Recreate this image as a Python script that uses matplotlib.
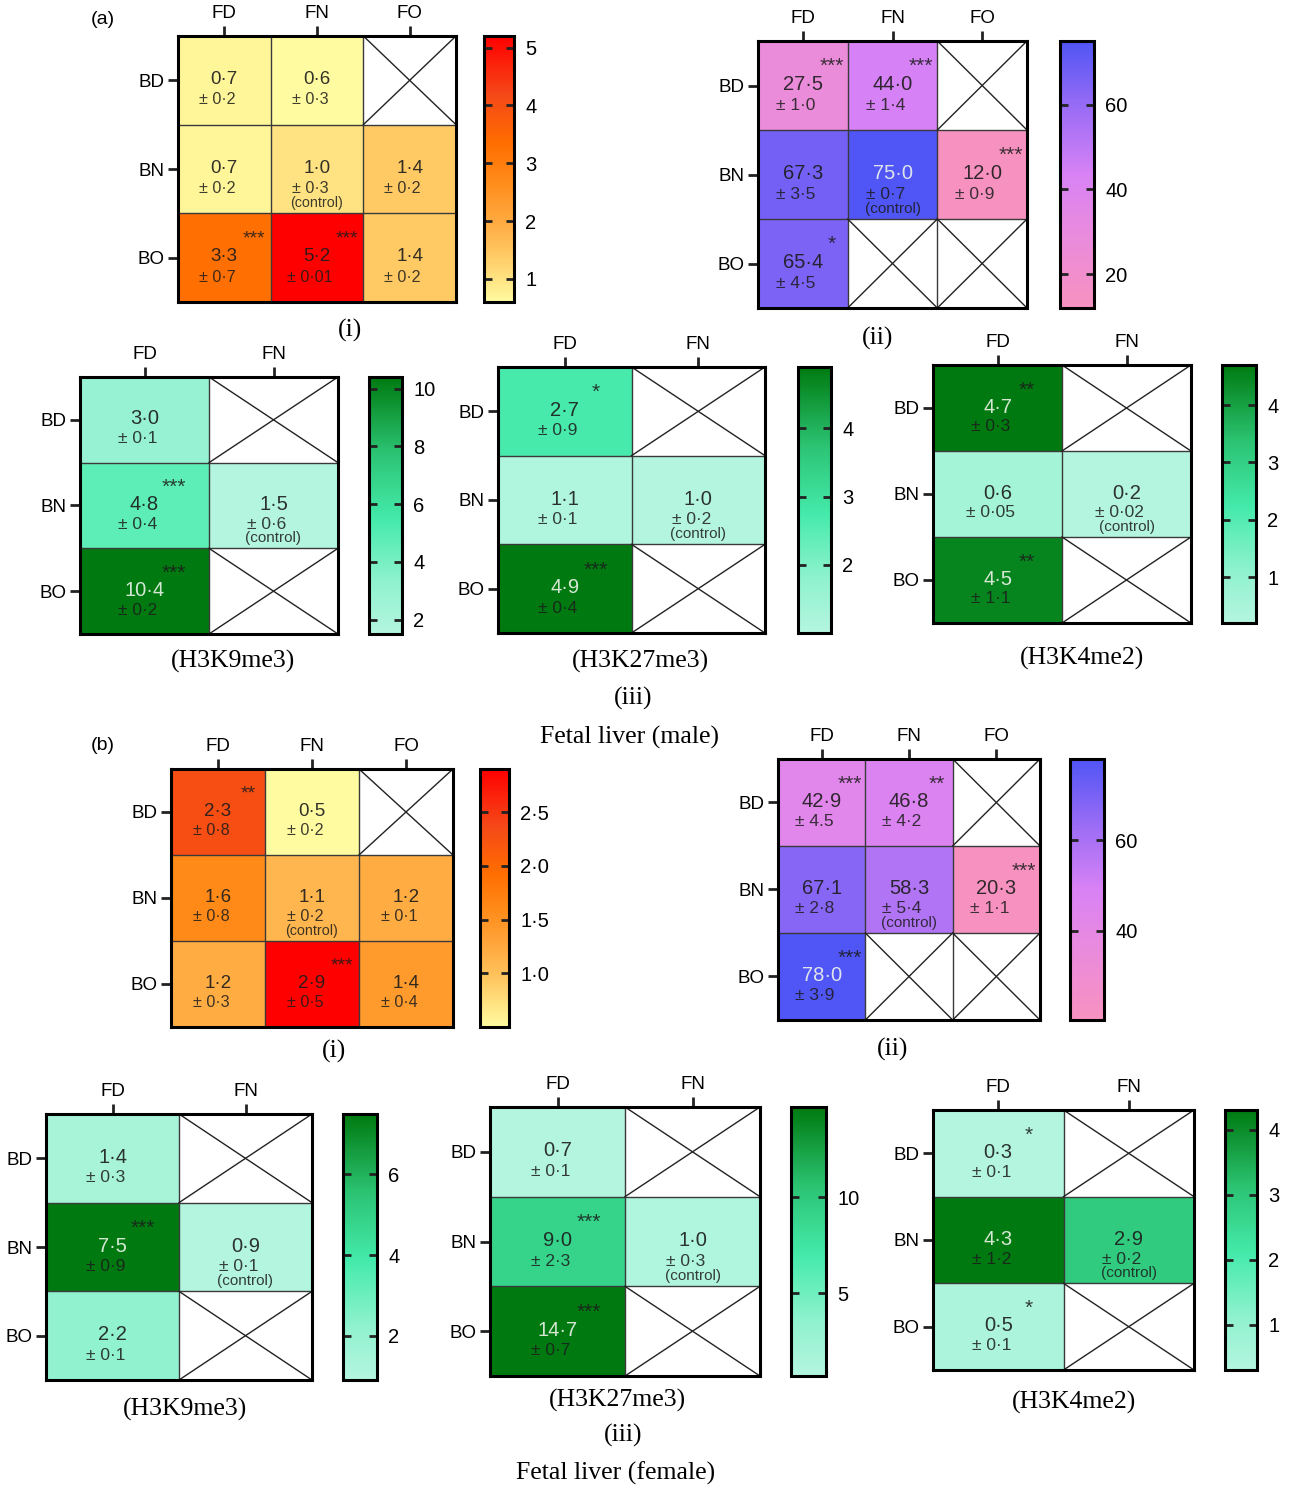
import numpy as np
import matplotlib
matplotlib.use("Agg")
import matplotlib.pyplot as plt
from matplotlib.colors import LinearSegmentedColormap, Normalize

plt.rcParams['font.family'] = ['Liberation Sans', 'DejaVu Sans']

nan = np.nan
rows = ["BD", "BN", "BO"]
cols3 = ["FD", "FN", "FO"]
cols2 = ["FD", "FN"]

# ---- (a) fetal liver, male ----
a1_vals = [[0.7, 0.6, nan], [0.7, 1.0, 1.4], [3.3, 5.2, 1.4]]
a1_errs = [["0·2", "0·3", ""], ["0·2", "0·3", "0·2"], ["0·7", "0·01", "0·2"]]
a1_stars = [["", "", ""], ["", "", ""], ["***", "***", ""]]

a2_vals = [[27.5, 44.0, nan], [67.3, 75.0, 12.0], [65.4, nan, nan]]
a2_errs = [["1·0", "1·4", ""], ["3·5", "0·7", "0·9"], ["4·5", "", ""]]
a2_stars = [["***", "***", ""], ["", "", "***"], ["*", "", ""]]

a3_k9_vals = [[3.0, nan], [4.8, 1.5], [10.4, nan]]
a3_k9_errs = [["0·1", ""], ["0·4", "0·6"], ["0·2", ""]]
a3_k9_stars = [["", ""], ["***", ""], ["***", ""]]

a3_k27_vals = [[2.7, nan], [1.1, 1.0], [4.9, nan]]
a3_k27_errs = [["0·9", ""], ["0·1", "0·2"], ["0·4", ""]]
a3_k27_stars = [["*", ""], ["", ""], ["***", ""]]

a3_k4_vals = [[4.7, nan], [0.6, 0.2], [4.5, nan]]
a3_k4_errs = [["0·3", ""], ["0·05", "0·02"], ["1·1", ""]]
a3_k4_stars = [["**", ""], ["", ""], ["**", ""]]

# ---- (b) fetal liver, female ----
b1_vals = [[2.3, 0.5, nan], [1.6, 1.1, 1.2], [1.2, 2.9, 1.4]]
b1_errs = [["0·8", "0·2", ""], ["0·8", "0·2", "0·1"], ["0·3", "0·5", "0·4"]]
b1_stars = [["**", "", ""], ["", "", ""], ["", "***", ""]]

b2_vals = [[42.9, 46.8, nan], [67.1, 58.3, 20.3], [78.0, nan, nan]]
b2_errs = [["4.5", "4·2", ""], ["2·8", "5·4", "1·1"], ["3·9", "", ""]]
b2_stars = [["***", "**", ""], ["", "", "***"], ["***", "", ""]]

b3_k9_vals = [[1.4, nan], [7.5, 0.9], [2.2, nan]]
b3_k9_errs = [["0·3", ""], ["0·9", "0·1"], ["0·1", ""]]
b3_k9_stars = [["", ""], ["***", ""], ["", ""]]

b3_k27_vals = [[0.7, nan], [9.0, 1.0], [14.7, nan]]
b3_k27_errs = [["0·1", ""], ["2·3", "0·3"], ["0·7", ""]]
b3_k27_stars = [["", ""], ["***", ""], ["***", ""]]

b3_k4_vals = [[0.3, nan], [4.3, 2.9], [0.5, nan]]
b3_k4_errs = [["0·1", ""], ["1·2", "0·2"], ["0·1", ""]]
b3_k4_stars = [["*", ""], ["", ""], ["*", ""]]

control_cell = (1, 1)

heat_cmap = LinearSegmentedColormap.from_list("heat", [
    (0, "#FFFBA0"), (0.17, "#FFCB65"), (0.3, "#FFAA40"), (0.46, "#FF8A18"),
    (0.6, "#FF6D00"), (0.78, "#F54818"), (1, "#FF0000")])
purple_cmap = LinearSegmentedColormap.from_list("purp", [
    (0, "#F792C0"), (0.3, "#E88AE0"), (0.5, "#D882F5"), (0.75, "#9A6CF5"), (1, "#5055F5")])
green_cmap = LinearSegmentedColormap.from_list("grn", [
    (0, "#B4F5DF"), (0.2, "#90F2CF"), (0.45, "#44EAAA"), (0.7, "#2CC474"), (1, "#007A10")])

W, H = 1290, 1488
fig = plt.figure(figsize=(W / 100, H / 100), dpi=100)


def px_axes(x0, y0, x1, y1):
    return fig.add_axes([x0 / W, 1 - y1 / H, (x1 - x0) / W, (y1 - y0) / H])


def draw_panel(box, cbar_x, vals, errs, stars, cols, cmap, cticks, clabels=None,
               light_text=True, fs=1.0):
    data = np.array(vals, dtype=float)
    nr, nc = data.shape
    x0, y0, x1, y1 = box
    cell_w = (x1 - x0) / nc
    ax = px_axes(x0, y0, x1, y1)
    norm = Normalize(np.nanmin(data), np.nanmax(data))
    mesh = ax.pcolormesh(np.arange(nc + 1), np.arange(nr + 1), np.ma.masked_invalid(data),
                         cmap=cmap, norm=norm)
    ax.set_xlim(0, nc)
    ax.set_ylim(nr, 0)
    for i in range(1, nc):
        ax.axvline(i, color="#3a3a3a", lw=1)
    for j in range(1, nr):
        ax.axhline(j, color="#3a3a3a", lw=1)

    star_x = 0.82 if nc == 3 else 0.73
    for r in range(nr):
        for c in range(nc):
            v = data[r, c]
            if np.isnan(v):
                ax.plot([c, c + 1], [r, r + 1], color="#222222", lw=1)
                ax.plot([c, c + 1], [r + 1, r], color="#222222", lw=1)
                continue
            frac = norm(v)
            vcol = "#EEF4EA" if (light_text and frac >= 0.9) else "#1c1c1c"
            ax.text(c + 0.5, r + 0.49, f"{v:.1f}".replace(".", "·"), ha="center", va="center",
                    fontsize=14.5 * fs, color=vcol, alpha=0.9)
            ax.text(c + 0.5 - 7 / cell_w, r + 0.72, "± " + errs[r][c], ha="center", va="center",
                    fontsize=12.5 * fs, color="#1c1c1c", alpha=0.85)
            if (r, c) == control_cell:
                ax.text(c + 0.5, r + 0.885, "(control)", ha="center", va="center",
                        fontsize=11 * fs, color="#1c1c1c", alpha=0.85)
            if stars[r][c]:
                ax.text(c + star_x, r + 0.29, stars[r][c], ha="center", va="center",
                        fontsize=15 * fs, color="#1c1c1c", alpha=0.85)

    ax.set_xticks(np.arange(nc) + 0.5)
    ax.set_xticklabels(cols)
    ax.xaxis.tick_top()
    ax.set_yticks(np.arange(nr) + 0.5)
    ax.set_yticklabels(rows)
    ax.tick_params(length=7, width=2, labelsize=13.5, pad=3, color="#222222")
    for s in ax.spines.values():
        s.set_linewidth(2.2)

    cax = px_axes(cbar_x[0], y0, cbar_x[1], y1)
    cb = fig.colorbar(mesh, cax=cax, ticks=cticks)
    if clabels is not None:
        cb.set_ticklabels(clabels)
    cb.outline.set_linewidth(2.2)
    cax.tick_params(direction="in", left=True, right=True, length=6, width=2,
                    labelsize=14.5, pad=8, color="#222222")


draw_panel((178, 36, 456, 302), (484, 514), a1_vals, a1_errs, a1_stars, cols3, heat_cmap,
           [1, 2, 3, 4, 5], light_text=False, fs=0.93)
draw_panel((758, 41, 1027, 308), (1060, 1094), a2_vals, a2_errs, a2_stars, cols3, purple_cmap,
           [20, 40, 60])
draw_panel((80, 377, 338, 634), (369, 402), a3_k9_vals, a3_k9_errs, a3_k9_stars, cols2, green_cmap,
           [2, 4, 6, 8, 10])
draw_panel((498, 367, 765, 633), (798, 831), a3_k27_vals, a3_k27_errs, a3_k27_stars, cols2, green_cmap,
           [2, 3, 4])
draw_panel((933, 365, 1191, 623), (1222, 1256), a3_k4_vals, a3_k4_errs, a3_k4_stars, cols2, green_cmap,
           [1, 2, 3, 4])

draw_panel((171, 769, 453, 1027), (480, 509), b1_vals, b1_errs, b1_stars, cols3, heat_cmap,
           [1.0, 1.5, 2.0, 2.5], ["1·0", "1·5", "2·0", "2·5"], light_text=False, fs=0.93)
draw_panel((778, 759, 1040, 1020), (1070, 1104), b2_vals, b2_errs, b2_stars, cols3, purple_cmap,
           [40, 60])
draw_panel((46, 1114, 312, 1380), (343, 377), b3_k9_vals, b3_k9_errs, b3_k9_stars, cols2, green_cmap,
           [2, 4, 6])
draw_panel((490, 1107, 760, 1376), (791, 826), b3_k27_vals, b3_k27_errs, b3_k27_stars, cols2, green_cmap,
           [5, 10])
draw_panel((933, 1110, 1194, 1370), (1225, 1257), b3_k4_vals, b3_k4_errs, b3_k4_stars, cols2, green_cmap,
           [1, 2, 3, 4])


def caption(x, y, s, serif=True, size=18.5):
    fig.text(x / W, 1 - y / H, s, ha="center", va="center", fontsize=size,
             family="Liberation Serif" if serif else "Liberation Sans")


caption(103, 20, "(a)", serif=False, size=14)
caption(103, 746, "(b)", serif=False, size=14)
caption(350, 330, "(i)")
caption(878, 338, "(ii)")
caption(233, 661, "(H3K9me3)")
caption(640, 661, "(H3K27me3)")
caption(1082, 658, "(H3K4me2)")
caption(633, 698, "(iii)")
caption(629, 737, "Fetal liver (male)")
caption(334, 1051, "(i)")
caption(893, 1049, "(ii)")
caption(185, 1409, "(H3K9me3)")
caption(617, 1400, "(H3K27me3)")
caption(1074, 1402, "(H3K4me2)")
caption(623, 1435, "(iii)")
caption(616, 1473, "Fetal liver (female)")

fig.savefig("out.png", dpi=100)
